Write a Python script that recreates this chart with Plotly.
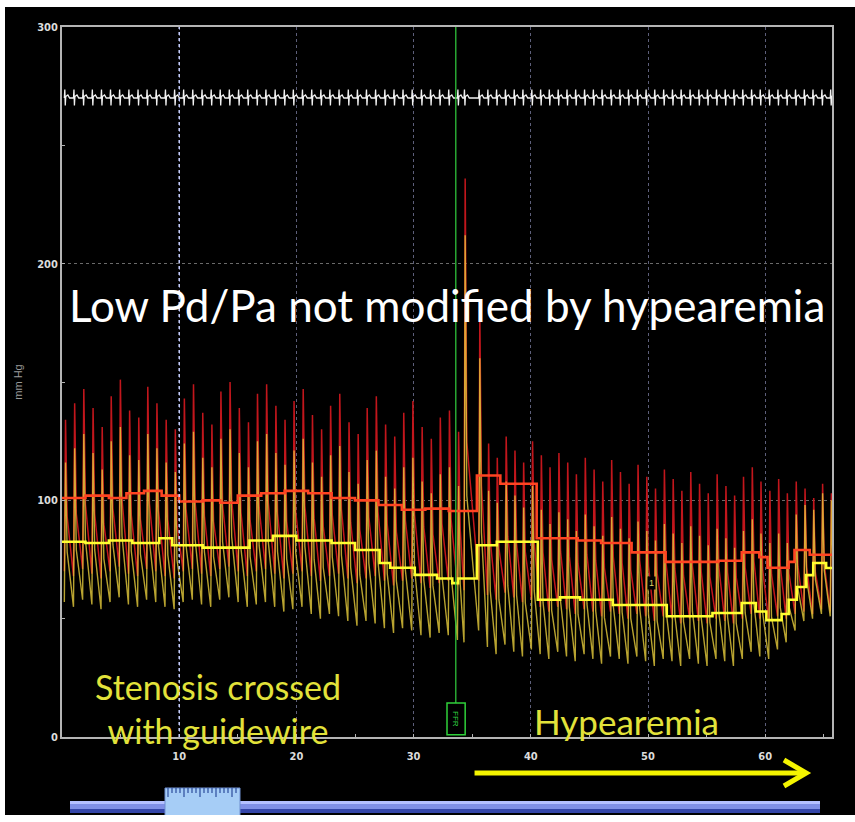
import plotly.graph_objects as go

# ---------------- recorded data ----------------
# beat onset times (s)
beat_t = [0.20, 0.98, 1.76, 2.55, 3.33, 4.10, 4.88, 5.67, 6.45, 7.22,
          8.00, 8.79, 9.57, 10.34, 11.12, 11.91, 12.69, 13.46, 14.24, 15.03,
          15.81, 16.58, 17.36, 18.15, 18.93, 19.70, 20.48, 21.27, 22.05, 22.82,
          23.60, 24.39, 25.17, 25.94, 26.72, 27.51, 28.29, 29.06, 29.84, 30.63,
          31.41, 32.18, 32.96, 33.74,
          34.30, 35.55,
          36.30, 37.04, 37.80, 38.55, 39.29, 40.05, 40.80, 41.54, 42.30, 43.05,
          43.79, 44.55, 45.30, 46.04, 46.80, 47.55, 48.29, 49.05, 49.80, 50.54,
          51.30, 52.05, 52.79, 53.55, 54.30, 55.04, 55.80, 56.55, 57.29, 58.05,
          58.80, 59.54, 60.30, 61.05, 61.79, 62.55, 63.30, 64.04, 64.80, 65.55]

# aortic pressure Pa (mm Hg): systolic / diastolic per beat
pa_sys = [134, 141, 147, 139, 131, 144, 151, 138, 135, 148,
          141, 134, 130, 143, 149, 137, 132, 146, 150, 139,
          133, 145, 149, 140, 134, 142, 147, 136, 130, 140,
          145, 133, 128, 139, 144, 132, 127, 137, 142, 131,
          126, 135, 138, 129,
          236, 178,
          124, 118, 127, 121, 116, 125, 119, 114, 120, 116,
          111, 118, 113, 108, 117, 112, 107, 115, 110, 105,
          113, 109, 104, 112, 107, 103, 111, 106, 102, 110,
          114, 108, 104, 109, 103, 108, 105, 101, 107, 103]
pa_dia = [70, 68, 71, 69, 67, 70, 72, 69, 68, 71,
          70, 68, 67, 70, 71, 69, 68, 71, 72, 70,
          68, 70, 71, 69, 67, 69, 70, 68, 66, 68,
          69, 67, 65, 67, 68, 66, 64, 66, 67, 65,
          63, 65, 66, 64,
          62, 66,
          60, 58, 61, 59, 57, 58, 55, 53, 55, 54,
          52, 54, 53, 51, 53, 52, 50, 52, 51, 49,
          51, 50, 48, 50, 49, 48, 50, 49, 48, 50,
          52, 50, 49, 51, 50, 52, 53, 52, 54, 53]

# distal pressure Pd (mm Hg): systolic / diastolic per beat
pd_sys = [116, 122, 128, 120, 113, 125, 131, 119, 117, 128,
          122, 116, 112, 124, 129, 118, 114, 126, 130, 120,
          114, 125, 128, 120, 115, 121, 126, 116, 110, 119,
          123, 112, 107, 117, 121, 110, 105, 114, 118, 108,
          103, 111, 114, 106,
          212, 160,
          104, 99, 108, 102, 97, 106, 96, 90, 95, 92,
          87, 94, 89, 85, 93, 88, 84, 91, 87, 83,
          90, 86, 82, 89, 85, 81, 88, 84, 80, 87,
          92, 86, 82, 86, 82, 94, 98, 96, 103, 100]
pd_dia = [57, 55, 58, 56, 54, 57, 59, 56, 55, 58,
          57, 55, 54, 57, 58, 56, 55, 58, 59, 57,
          55, 56, 57, 55, 53, 54, 55, 52, 50, 52,
          51, 49, 47, 49, 48, 46, 44, 46, 45, 43,
          42, 44, 43, 41,
          40, 45,
          38, 35, 39, 36, 34, 37, 35, 33, 36, 34,
          32, 35, 33, 31, 34, 33, 31, 34, 32, 30,
          33, 32, 30, 33, 31, 30, 33, 32, 30, 33,
          36, 34, 33, 37, 40, 45, 49, 50, 52, 51]

# running mean pressures (step values, mm Hg)
pa_mean_t = [0, 2, 4, 5.5, 7, 8.5, 10, 12, 13.5, 15, 17, 19, 21, 23, 25, 27,
             29, 31, 33, 35.4, 37.4, 40.5, 44, 46, 48.6, 51.5, 54, 56, 58,
             59.5, 60.2, 62, 62.5, 63.8, 65.7]
pa_mean_v = [101, 102, 101, 103, 104, 102, 99.5, 100, 99, 102, 103, 104, 103,
             101, 100, 98, 96, 96.5, 95.5, 110.5, 107, 84, 83, 82, 78, 74, 74,
             74.5, 78, 76, 71.5, 74, 79, 77, 77]
pd_mean_t = [0, 2, 4, 6, 8.3, 9.4, 12, 14, 16, 18, 20, 23, 25, 27.1, 28, 30.1,
             32, 33.3, 33.8, 35.4, 37.1, 40.6, 42.5, 44.2, 47, 51.6, 55.5, 58,
             59.2, 60.1, 61.4, 62, 62.7, 63.5, 64.1, 65.2, 65.7]
pd_mean_v = [82.5, 82, 83, 82, 84, 81, 80, 80, 83, 85, 83, 82, 79, 73.5, 71.5,
             68.5, 67, 65, 67, 81, 82.5, 58, 59, 58, 55.8, 51, 52.4, 56.6, 53,
             49.4, 52, 58, 63.4, 68.4, 73.5, 71.4, 71.4]

ecg_level = 270          # ECG channel baseline on the pressure scale
event_t = 33.6           # event marker time
hyper_start, hyper_end = 35.2, 63.5

x_ticks = [10, 20, 30, 40, 50, 60]
y_ticks = [0, 100, 200, 300]

# ---------------- trace building ----------------
UPSTROKE, NOTCH_T, NOTCH_LEVEL = 0.10, 0.24, 0.36


def pressure_wave(sys_v, dia_v):
    xs, ys = [], []
    for t, s, d in zip(beat_t, sys_v, dia_v):
        xs += [t, t + UPSTROKE, t + NOTCH_T]
        ys += [d, s, d + NOTCH_LEVEL * (s - d)]
    return xs, ys


ECG_DT = [0.0, 0.04, 0.08, 0.12, 0.30, 0.45]
ECG_DV = [0.0, 3.6, -3.2, 0.6, 1.3, 0.0]


def ecg_wave():
    xs, ys = [], []
    for t in beat_t:
        for dt, dv in zip(ECG_DT, ECG_DV):
            xs.append(t + dt)
            ys.append(ecg_level + dv)
    return xs, ys


fig = go.Figure()

pax, pay = pressure_wave(pa_sys, pa_dia)
pdx, pdy = pressure_wave(pd_sys, pd_dia)
ex, ey = ecg_wave()

fig.add_trace(go.Scatter(x=pax, y=pay, mode="lines",
                         line=dict(color="#c2161c", width=1.5), name="Pa"))
fig.add_trace(go.Scatter(x=pdx, y=pdy, mode="lines", opacity=0.8,
                         line=dict(color="#e6cc3c", width=1.4), name="Pd"))
fig.add_trace(go.Scatter(x=ex, y=ey, mode="lines",
                         line=dict(color="#f2f2f2", width=1.3), name="ECG"))
fig.add_trace(go.Scatter(x=pa_mean_t, y=pa_mean_v, mode="lines",
                         line=dict(color="#ff4422", width=2.6, shape="hv"),
                         name="Pa mean"))
fig.add_trace(go.Scatter(x=pd_mean_t, y=pd_mean_v, mode="lines",
                         line=dict(color="#ffff30", width=2.6, shape="hv"),
                         name="Pd mean"))

# ---------------- axes ----------------
tick_font = dict(family="Liberation Sans Narrow, DejaVu Sans Condensed, Liberation Sans",
                 size=11, color="#dcdcdc", weight="bold")
fig.update_xaxes(range=[0, 65.7], tickvals=x_ticks, showgrid=True,
                 griddash="dot", gridcolor="#5d5f7a", gridwidth=1,
                 showline=True, mirror=True, linecolor="#b4b4b4", linewidth=2,
                 zeroline=False, ticks="inside", ticklen=3, tickcolor="#b4b4b4",
                 minor=dict(dtick=5, tick0=0, ticks="inside", ticklen=3,
                            tickcolor="#b4b4b4", showgrid=False),
                 tickfont=tick_font, ticklabelstandoff=8)
fig.update_yaxes(range=[0, 300], tickvals=y_ticks, showgrid=True,
                 griddash="dot", gridcolor="#6a6a6a", gridwidth=1,
                 showline=True, mirror=True, linecolor="#b4b4b4", linewidth=2,
                 zeroline=False, ticks="inside", ticklen=3, tickcolor="#b4b4b4",
                 minor=dict(dtick=50, tick0=0, ticks="inside", ticklen=3,
                            tickcolor="#b4b4b4", showgrid=False),
                 tickfont=tick_font,
                 title=dict(text="mm Hg", standoff=12,
                            font=dict(family="Liberation Sans", size=11, color="#9a9a9a")))

L, R, T, B, W, H = 62, 23, 27, 85, 855, 822
PW, PH = W - L - R, H - T - B


def px(xp):
    return (xp - L) / PW


def py(yp):
    return (H - B - yp) / PH


shapes = []
# highlighted time cursor
shapes.append(dict(type="line", xref="x", yref="paper", x0=10, x1=10, y0=0, y1=1,
                   line=dict(color="#c8d0ff", width=1.5, dash="dot")))
# event marker line and its tag
shapes.append(dict(type="line", xref="x", yref="y", x0=event_t, x1=event_t, y0=14.4, y1=300,
                   line=dict(color="#2fc03a", width=1.3)))
shapes.append(dict(type="rect", xref="x", yref="y", x0=event_t - 0.75, x1=event_t + 0.8,
                   y0=0.9, y1=14.4, line=dict(color="#2fd03a", width=1.5)))
# hyperaemia arrow
ay = py(773)
shapes.append(dict(type="line", xref="x", yref="paper", x0=hyper_start, x1=hyper_end - 0.1,
                   y0=ay, y1=ay, line=dict(color="#f4f400", width=5)))
shapes.append(dict(type="path", xref="x", yref="paper",
                   path=f"M {hyper_end - 1.9},{py(760)} L {hyper_end},{ay} L {hyper_end - 1.9},{py(786)}",
                   line=dict(color="#f4f400", width=5)))
# scroll bar
for y0, y1, c in [(801, 804, "#b4c0ff"), (804, 809, "#8090e6"), (809, 813, "#3445a8")]:
    shapes.append(dict(type="rect", xref="paper", yref="paper", x0=px(70), x1=px(820),
                       y0=py(y1), y1=py(y0), line=dict(width=0), fillcolor=c))
# ruler-style scroll thumb
shapes.append(dict(type="rect", xref="paper", yref="paper", x0=px(165), x1=px(240),
                   y0=py(816), y1=py(788), line=dict(color="#6f8fd0", width=1),
                   fillcolor="#a6cdf6"))
for i in range(18):
    xp = 168 + i * 4
    ln = 9 if i % 4 == 0 else 5
    shapes.append(dict(type="line", xref="paper", yref="paper", x0=px(xp), x1=px(xp),
                       y0=py(788 + ln), y1=py(788), line=dict(color="#2c4c9c", width=1.2)))
# white page border
for x0, x1, y0, y1 in [(0, 5, 0, 822), (0, 855, 0, 7), (0, 855, 815, 822)]:
    shapes.append(dict(type="rect", xref="paper", yref="paper", x0=px(x0), x1=px(x1),
                       y0=py(y1), y1=py(y0), line=dict(width=0), fillcolor="white"))

annotations = [
    dict(text="Low Pd/Pa not modified by hypearemia", xref="paper", yref="paper",
         x=px(447), y=py(305), showarrow=False, xanchor="center", yanchor="middle",
         font=dict(family="Lato", size=44, color="#ffffff")),
    dict(text="Stenosis crossed<br>with guidewire", xref="paper", yref="paper",
         x=px(218), y=py(708), showarrow=False, xanchor="center", yanchor="middle",
         align="center", font=dict(family="Lato", size=34, color="#e2e23a")),
    dict(text="Hypearemia", xref="paper", yref="paper",
         x=px(626), y=py(721), showarrow=False, xanchor="center", yanchor="middle",
         font=dict(family="Lato", size=35, color="#e2e23a")),
    dict(text="FFR", x=event_t + 0.02, y=7.6, xref="x", yref="y", showarrow=False,
         textangle=90, font=dict(family="Liberation Sans", size=8, color="#30d040")),
    dict(text="1", x=50.3, y=65, xref="x", yref="y", showarrow=False,
         bgcolor="#000000", font=dict(family="Liberation Sans", size=9, color="#e0d060")),
]

fig.update_layout(width=W, height=H, margin=dict(l=L, r=R, t=T, b=B),
                  paper_bgcolor="#000000", plot_bgcolor="#000000",
                  showlegend=False, shapes=shapes, annotations=annotations)

fig.write_html("out.html", config={"displayModeBar": False})
